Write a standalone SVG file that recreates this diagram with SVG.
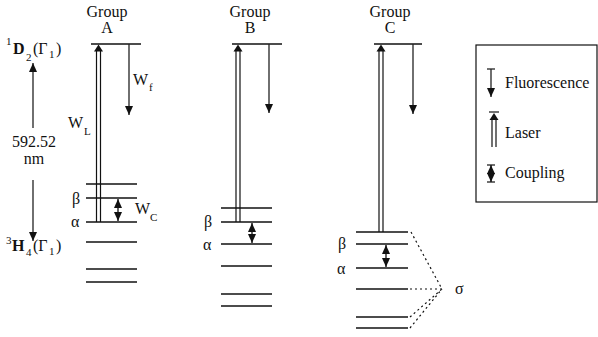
<svg xmlns="http://www.w3.org/2000/svg" width="598" height="337" viewBox="0 0 598 337">
<style>
text{font-family:"Liberation Serif","Times New Roman",Times,"Nimbus Roman","Tinos","DejaVu Serif",serif;font-size:16px;fill:#111}
.sm{font-size:11px}
.b{font-weight:bold}
.lv{stroke:#111;stroke-width:1.6;fill:none}
.ln{stroke:#111;stroke-width:1.2;fill:none}
.fl{stroke:#222;stroke-width:1.3;fill:none;marker-end:url(#ah)}
.cp{stroke:#111;stroke-width:1.3;fill:none;marker-start:url(#ah);marker-end:url(#ah)}
.dt{stroke:#111;stroke-width:1.2;fill:none;stroke-dasharray:2 3}
.mid{text-anchor:middle}
</style>
<defs>
<marker id="ah" viewBox="0 0 9 8" refX="9" refY="4" markerWidth="9" markerHeight="8" markerUnits="userSpaceOnUse" orient="auto-start-reverse"><path d="M0,0 L9,4 L0,8 z" fill="#111"/></marker>
<path id="lh" d="M0,0 L-4.5,7 L4.5,7 z" fill="#111"/>
</defs>

<g id="left-scale">
<text x="6" y="45" class="sm">1</text>
<text x="13" y="54" class="b">D</text>
<text x="26" y="61" class="sm">2</text>
<text x="33" y="54">(Γ</text>
<text x="49" y="58" class="sm">1</text>
<text x="56" y="54">)</text>
<line x1="33" y1="128" x2="33" y2="63" class="fl"/>
<text x="34" y="147" class="mid">592.52</text>
<text x="34" y="164" class="mid">nm</text>
<line x1="33" y1="180" x2="33" y2="241" class="fl"/>
<text x="6" y="244" class="sm">3</text>
<text x="12" y="251" class="b">H</text>
<text x="26" y="256" class="sm">4</text>
<text x="33" y="251">(Γ</text>
<text x="49" y="255" class="sm">1</text>
<text x="56" y="251">)</text>
</g>

<g id="groupA">
<text x="107" y="17" class="mid">Group</text>
<text x="107" y="33" class="mid">A</text>
<line x1="91" y1="44" x2="141" y2="44" class="lv"/>
<line x1="86" y1="184" x2="137" y2="184" class="lv"/>
<line x1="86" y1="198" x2="137" y2="198" class="lv"/>
<line x1="86" y1="222" x2="137" y2="222" class="lv"/>
<line x1="86" y1="242" x2="137" y2="242" class="lv"/>
<line x1="86" y1="269" x2="137" y2="269" class="lv"/>
<line x1="86" y1="282" x2="137" y2="282" class="lv"/>
<text x="72" y="204">β</text>
<text x="71" y="227">α</text>
<text x="68" y="128">W</text>
<text x="84" y="135" class="sm">L</text>
<text x="133" y="85">W</text>
<text x="149" y="91" class="sm">f</text>
<text x="135" y="214">W</text>
<text x="150" y="221" class="sm">C</text>
</g>

<g id="groupB">
<text x="250" y="17" class="mid">Group</text>
<text x="250" y="33" class="mid">B</text>
<line x1="232" y1="44" x2="282" y2="44" class="lv"/>
<line x1="221" y1="208" x2="272" y2="208" class="lv"/>
<line x1="221" y1="222" x2="272" y2="222" class="lv"/>
<line x1="221" y1="244" x2="272" y2="244" class="lv"/>
<line x1="221" y1="266" x2="272" y2="266" class="lv"/>
<line x1="221" y1="294" x2="272" y2="294" class="lv"/>
<line x1="221" y1="306" x2="272" y2="306" class="lv"/>
<text x="204" y="227">β</text>
<text x="203" y="250">α</text>
</g>

<g id="groupC">
<text x="390" y="17" class="mid">Group</text>
<text x="390" y="33" class="mid">C</text>
<line x1="374" y1="44" x2="422" y2="44" class="lv"/>
<line x1="356" y1="232" x2="408" y2="232" class="lv"/>
<line x1="356" y1="244" x2="408" y2="244" class="lv"/>
<line x1="356" y1="268" x2="408" y2="268" class="lv"/>
<line x1="356" y1="289" x2="408" y2="289" class="lv"/>
<line x1="356" y1="317" x2="408" y2="317" class="lv"/>
<line x1="356" y1="328" x2="408" y2="328" class="lv"/>
<text x="338" y="249">β</text>
<text x="337" y="274">α</text>
<text x="455" y="294">σ</text>
</g>

<g id="connectors">
<line x1="96.5" y1="222" x2="96.5" y2="50" class="ln"/>
<line x1="100.5" y1="222" x2="100.5" y2="50" class="ln"/>
<use href="#lh" x="98.5" y="44.5"/>
<line x1="129" y1="44" x2="129" y2="115" class="fl"/>
<line x1="118" y1="199" x2="118" y2="221" class="cp"/>
<line x1="236" y1="222" x2="236" y2="50" class="ln"/>
<line x1="240" y1="222" x2="240" y2="50" class="ln"/>
<use href="#lh" x="238" y="44.5"/>
<line x1="269" y1="44" x2="269" y2="113" class="fl"/>
<line x1="252" y1="223" x2="252" y2="243" class="cp"/>
<line x1="379" y1="232" x2="379" y2="50" class="ln"/>
<line x1="383" y1="232" x2="383" y2="50" class="ln"/>
<use href="#lh" x="381" y="44.5"/>
<line x1="413" y1="44" x2="413" y2="114" class="fl"/>
<line x1="386" y1="245" x2="386" y2="267" class="cp"/>
<line x1="411" y1="232" x2="442" y2="289" class="dt"/>
<line x1="410" y1="289" x2="442" y2="289" class="dt"/>
<line x1="410" y1="317" x2="442" y2="289" class="dt"/>
<line x1="410" y1="328" x2="442" y2="289" class="dt"/>
</g>

<g id="legend">
<rect x="476" y="45" width="121" height="157" fill="none" stroke="#111" stroke-width="1.2"/>
<line x1="487" y1="69" x2="495" y2="69" class="ln"/>
<line x1="491" y1="69" x2="491" y2="97" class="fl"/>
<text x="505" y="88">Fluorescence</text>
<line x1="489" y1="112" x2="499" y2="112" class="ln"/>
<line x1="492" y1="118" x2="492" y2="147" class="ln"/>
<line x1="496" y1="118" x2="496" y2="147" class="ln"/>
<use href="#lh" x="494" y="113"/>
<text x="505" y="138">Laser</text>
<line x1="487" y1="165" x2="495" y2="165" class="ln"/>
<line x1="487" y1="182" x2="495" y2="182" class="ln"/>
<line x1="491" y1="165" x2="491" y2="182" class="cp"/>
<text x="505" y="178">Coupling</text>
</g>
</svg>
